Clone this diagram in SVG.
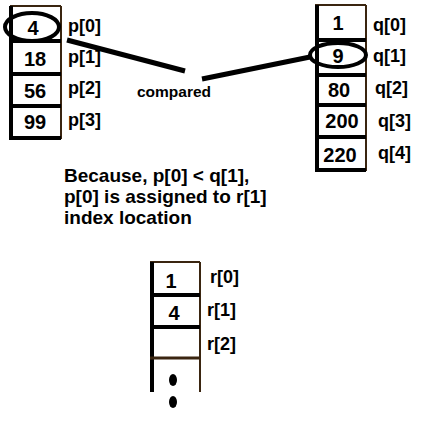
<svg xmlns="http://www.w3.org/2000/svg" width="429" height="428" viewBox="0 0 429 428">
<style>
text{font-family:"Liberation Sans",Arial,sans-serif;font-weight:bold;fill:#000}
.v{font-size:20px;text-anchor:middle}
.l{font-size:18px}
.t{font-size:19px}
.c{font-size:15.5px}
.thick{stroke:#000;stroke-width:4;fill:none}
.thin{stroke:#3a2510;stroke-width:2;fill:none}
.ring{stroke:#000;stroke-width:4;fill:none}
</style>
<rect width="429" height="428" fill="#fff"/>
<g id="connectors">
<line x1="67" y1="40" x2="185" y2="71" stroke="#000" stroke-width="5"/>
<line x1="202" y1="79" x2="310" y2="57" stroke="#000" stroke-width="5"/>
</g>
<g id="array-p">
<line class="thin" x1="10" y1="6" x2="61" y2="6"/>
<line class="thin" x1="61" y1="6" x2="61" y2="139"/>
<line class="thick" x1="11" y1="6" x2="11" y2="140"/>
<line class="thick" x1="9" y1="41" x2="61" y2="41"/>
<line class="thick" x1="9" y1="74" x2="61" y2="74"/>
<line class="thick" x1="9" y1="106" x2="61" y2="106"/>
<line class="thick" x1="9" y1="138" x2="61" y2="138"/>
<text class="v" x="33" y="35">4</text>
<text class="v" x="35" y="66">18</text>
<text class="v" x="35" y="98">56</text>
<text class="v" x="35" y="129">99</text>
<text class="l" x="68" y="32">p[0]</text>
<text class="l" x="68" y="63">p[1]</text>
<text class="l" x="68" y="94">p[2]</text>
<text class="l" x="68" y="126">p[3]</text>
<ellipse class="ring" cx="32" cy="27" rx="27" ry="14"/>
</g>
<g id="array-q">
<line class="thin" x1="315" y1="5" x2="366" y2="5"/>
<line class="thin" x1="366" y1="5" x2="366" y2="171"/>
<line class="thick" x1="317" y1="5" x2="317" y2="172"/>
<line class="thick" x1="315" y1="40" x2="366" y2="40"/>
<line class="thick" x1="315" y1="75" x2="366" y2="75"/>
<line class="thick" x1="315" y1="105" x2="366" y2="105"/>
<line class="thick" x1="315" y1="137" x2="366" y2="137"/>
<line class="thick" x1="315" y1="170" x2="366" y2="170"/>
<text class="v" x="338" y="30">1</text>
<text class="v" x="338" y="63">9</text>
<text class="v" x="339" y="97">80</text>
<text class="v" x="342" y="128">200</text>
<text class="v" x="340" y="162">220</text>
<text class="l" x="373" y="31">q[0]</text>
<text class="l" x="373" y="62">q[1]</text>
<text class="l" x="375" y="94">q[2]</text>
<text class="l" x="378" y="127">q[3]</text>
<text class="l" x="378" y="159">q[4]</text>
<ellipse class="ring" cx="338" cy="55" rx="28" ry="12"/>
</g>
<g id="label-compared">
<text class="c" x="137" y="97">compared</text>
</g>
<g id="explanation">
<text class="t" x="64" y="182">Because, p[0] &lt; q[1],</text>
<text class="t" x="64" y="203">p[0] is assigned to r[1]</text>
<text class="t" x="64" y="224">index location</text>
</g>
<g id="array-r">
<line class="thin" x1="150" y1="262" x2="200" y2="262"/>
<line class="thin" x1="200" y1="262" x2="200" y2="392"/>
<line class="thick" x1="152" y1="262" x2="152" y2="392"/>
<line class="thick" x1="150" y1="295" x2="200" y2="295"/>
<line class="thick" x1="150" y1="327" x2="200" y2="327"/>
<line x1="150" y1="358" x2="200" y2="358" stroke="#3a2510" stroke-width="3"/>
<text class="v" x="171" y="288">1</text>
<text class="v" x="174" y="320">4</text>
<text class="l" x="210" y="283">r[0]</text>
<text class="l" x="207" y="316">r[1]</text>
<text class="l" x="207" y="350">r[2]</text>
<ellipse cx="173" cy="380" rx="4" ry="6" fill="#000"/>
<ellipse cx="173" cy="402" rx="4" ry="6" fill="#000"/>
</g>
</svg>
